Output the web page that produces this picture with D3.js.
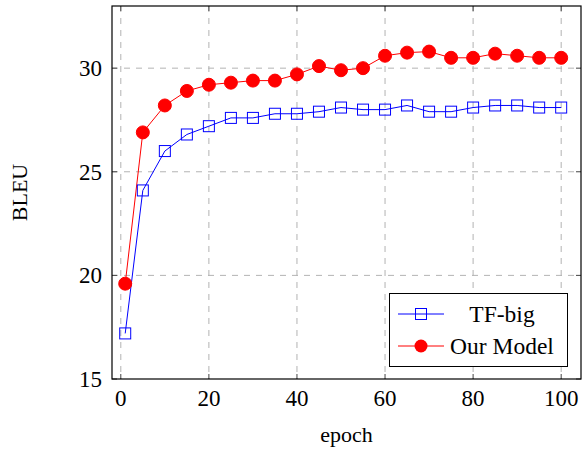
<!DOCTYPE html>
<html>
<head>
<meta charset="utf-8">
<script src="https://cdn.jsdelivr.net/npm/d3@7"></script>
<style>
  body { margin: 0; background: #fff; }
  text { font-family: "Liberation Serif", "DejaVu Serif", serif; }
</style>
</head>
<body>
<svg id="chart" width="582" height="450"></svg>
<script>
const epochs = [1, 5, 10, 15, 20, 25, 30, 35, 40, 45, 50, 55, 60, 65, 70, 75, 80, 85, 90, 95, 100];
const tfBig = [17.2, 24.1, 26.0, 26.8, 27.2, 27.6, 27.6, 27.8, 27.8, 27.9, 28.1, 28.0, 28.0, 28.2, 27.9, 27.9, 28.1, 28.2, 28.2, 28.1, 28.1];
const ourModel = [19.6, 26.9, 28.2, 28.9, 29.2, 29.3, 29.4, 29.4, 29.7, 30.1, 29.9, 30.0, 30.6, 30.75, 30.8, 30.5, 30.5, 30.7, 30.6, 30.5, 30.5];
const xTicks = [0, 20, 40, 60, 80, 100];
const yTicks = [15, 20, 25, 30];

const svg = d3.select("#chart");
const plotLeft = 112, plotRight = 581, plotTop = 6, plotBottom = 379;

const x = d3.scaleLinear().domain([-2, 104.5]).range([plotLeft, plotRight]);
const y = d3.scaleLinear().domain([15, 33]).range([plotBottom, plotTop]);

// grid
const grid = svg.append("g").attr("class", "grid");
grid.selectAll(".gx")
    .data(xTicks)
    .join("line")
    .attr("x1", d => x(d)).attr("x2", d => x(d))
    .attr("y1", plotTop).attr("y2", plotBottom)
    .attr("stroke", "#b3b3b3")
    .attr("stroke-width", 1)
    .attr("stroke-dasharray", "6,6");
grid.selectAll(".gy")
    .data(yTicks.filter(d => d > 15))
    .join("line")
    .attr("x1", plotLeft).attr("x2", plotRight)
    .attr("y1", d => y(d)).attr("y2", d => y(d))
    .attr("stroke", "#b3b3b3")
    .attr("stroke-width", 1)
    .attr("stroke-dasharray", "6,6");

// tick marks (inside, all four sides)
const tickLen = 5;
const ticks = svg.append("g").attr("stroke", "#444").attr("stroke-width", 1);
xTicks.forEach(d => {
    ticks.append("line").attr("x1", x(d)).attr("x2", x(d)).attr("y1", plotBottom).attr("y2", plotBottom - tickLen);
    ticks.append("line").attr("x1", x(d)).attr("x2", x(d)).attr("y1", plotTop).attr("y2", plotTop + tickLen);
});
yTicks.forEach(d => {
    ticks.append("line").attr("x1", plotLeft).attr("x2", plotLeft + tickLen).attr("y1", y(d)).attr("y2", y(d));
    ticks.append("line").attr("x1", plotRight).attr("x2", plotRight - tickLen).attr("y1", y(d)).attr("y2", y(d));
});

// frame
svg.append("rect")
    .attr("x", plotLeft).attr("y", plotTop)
    .attr("width", plotRight - plotLeft).attr("height", plotBottom - plotTop)
    .attr("fill", "none")
    .attr("stroke", "#000")
    .attr("stroke-width", 1.2);

// tick labels
svg.append("g").selectAll("text")
    .data(xTicks)
    .join("text")
    .attr("x", d => x(d))
    .attr("y", plotBottom + 27)
    .attr("text-anchor", "middle")
    .style("font-size", "23px")
    .text(d => d);

svg.append("g").selectAll("text")
    .data(yTicks)
    .join("text")
    .attr("x", plotLeft - 10)
    .attr("y", d => y(d) + 8)
    .attr("text-anchor", "end")
    .style("font-size", "23px")
    .text(d => d);

// axis labels
svg.append("text")
    .attr("x", (plotLeft + plotRight) / 2)
    .attr("y", 442)
    .attr("text-anchor", "middle")
    .style("font-size", "22px")
    .text("epoch");

svg.append("text")
    .attr("transform", `translate(27, ${(plotTop + plotBottom) / 2}) rotate(-90)`)
    .attr("text-anchor", "middle")
    .style("font-size", "22px")
    .text("BLEU");

// series
const line = d3.line()
    .x((d, i) => x(epochs[i]))
    .y(d => y(d));

svg.append("path")
    .datum(tfBig)
    .attr("d", line)
    .attr("fill", "none")
    .attr("stroke", "#0000ff")
    .attr("stroke-width", 1);

svg.append("path")
    .datum(ourModel)
    .attr("d", line)
    .attr("fill", "none")
    .attr("stroke", "#ff0000")
    .attr("stroke-width", 1);

const sq = 11;
svg.append("g").selectAll("rect")
    .data(tfBig)
    .join("rect")
    .attr("x", (d, i) => x(epochs[i]) - sq / 2)
    .attr("y", d => y(d) - sq / 2)
    .attr("width", sq).attr("height", sq)
    .attr("fill", "none")
    .attr("stroke", "#0000ff")
    .attr("stroke-width", 1);

svg.append("g").selectAll("circle")
    .data(ourModel)
    .join("circle")
    .attr("cx", (d, i) => x(epochs[i]))
    .attr("cy", d => y(d))
    .attr("r", 6.5)
    .attr("fill", "#ff0000")
    .attr("stroke", "#ff0000");

// legend
const legend = svg.append("g");
legend.append("rect")
    .attr("x", 389.5).attr("y", 293.5)
    .attr("width", 178).attr("height", 73)
    .attr("fill", "#fff")
    .attr("stroke", "#000")
    .attr("stroke-width", 1);

const rowY = [314, 346];
legend.append("line").attr("x1", 398).attr("x2", 444).attr("y1", rowY[0]).attr("y2", rowY[0])
    .attr("stroke", "#0000ff");
legend.append("rect").attr("x", 421 - sq / 2).attr("y", rowY[0] - sq / 2)
    .attr("width", sq).attr("height", sq)
    .attr("fill", "none").attr("stroke", "#0000ff");
legend.append("line").attr("x1", 398).attr("x2", 444).attr("y1", rowY[1]).attr("y2", rowY[1])
    .attr("stroke", "#ff0000");
legend.append("circle").attr("cx", 421).attr("cy", rowY[1]).attr("r", 6.5)
    .attr("fill", "#ff0000");

legend.append("text")
    .attr("x", 502).attr("y", rowY[0] + 8)
    .attr("text-anchor", "middle")
    .style("font-size", "23.5px")
    .text("TF-big");
legend.append("text")
    .attr("x", 502).attr("y", rowY[1] + 8)
    .attr("text-anchor", "middle")
    .style("font-size", "23.5px")
    .text("Our Model");
</script>
</body>
</html>
